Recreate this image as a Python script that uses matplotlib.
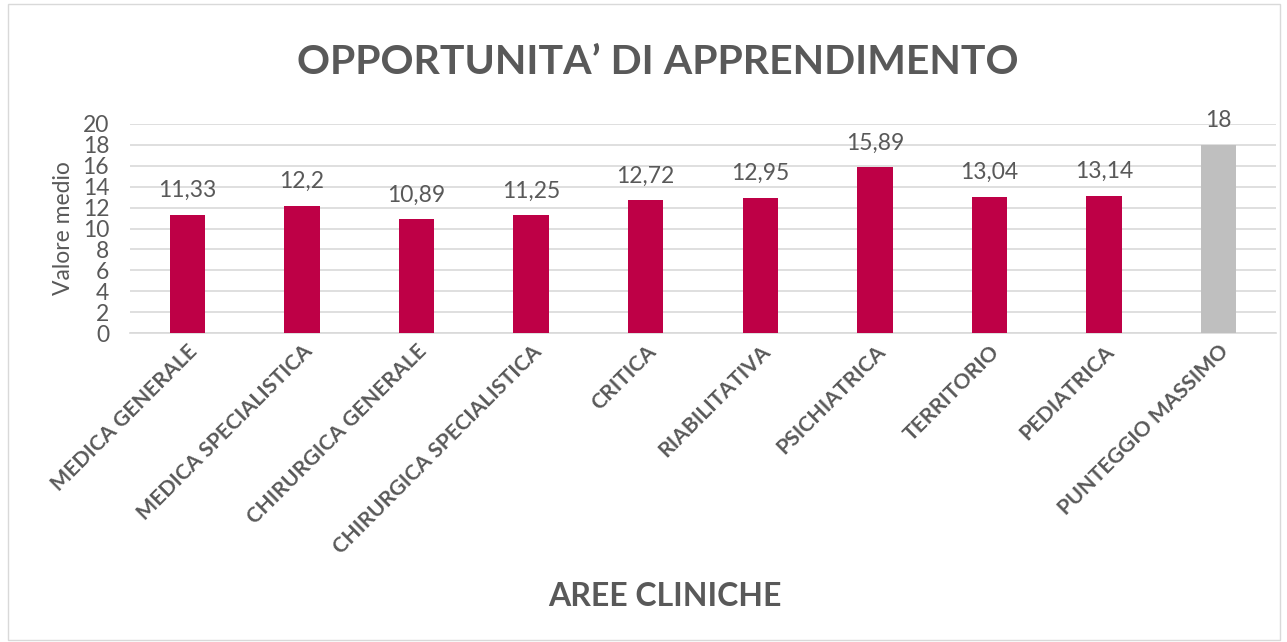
import matplotlib
matplotlib.use("Agg")
import matplotlib.pyplot as plt
from matplotlib.patches import Rectangle

categories = ["MEDICA GENERALE", "MEDICA SPECIALISTICA", "CHIRURGICA GENERALE",
              "CHIRURGICA SPECIALISTICA", "CRITICA", "RIABILITATIVA", "PSICHIATRICA",
              "TERRITORIO", "PEDIATRICA", "PUNTEGGIO MASSIMO"]
values = [11.33, 12.2, 10.89, 11.25, 12.72, 12.95, 15.89, 13.04, 13.14, 18]
labels = ["11,33", "12,2", "10,89", "11,25", "12,72", "12,95", "15,89", "13,04", "13,14", "18"]
yticks = list(range(0, 21, 2))

plt.rcParams['font.family'] = ['Lato', 'DejaVu Sans']
txt = "#595959"
red = "#BE0046"
grey = "#BFBFBF"
colors = [red] * 9 + [grey]

fig = plt.figure(figsize=(12.87, 6.42), dpi=100)
fig.patches.append(Rectangle((8/1287, 2/642), 1272/1287, 636/642, transform=fig.transFigure,
                             fill=False, edgecolor="#D9D9D9", linewidth=1))
ax = fig.add_axes([130/1287, 1 - 333/642, 1146/1287, 209/642])
x = list(range(len(categories)))
ax.bar(x, values, width=0.31, color=colors, zorder=3)
ax.set_xlim(-0.5, len(categories) - 0.5)
ax.set_ylim(0, 20)
ax.set_yticks(yticks)
ax.yaxis.grid(True, color="#D9D9D9", linewidth=1.2, zorder=0)
for s in ["top", "right", "left"]:
    ax.spines[s].set_visible(False)
ax.spines["bottom"].set_color("#D9D9D9")
ax.spines["bottom"].set_linewidth(1.2)
ax.tick_params(axis="y", length=0, labelsize=16.5, labelcolor=txt, pad=15)
ax.tick_params(axis="x", length=0, pad=6)
ax.set_xticks(x)
ax.set_xticklabels(categories, rotation=45, ha="right", rotation_mode="anchor",
                   fontsize=15.3, fontweight="bold", color=txt)
for xi, v, l in zip(x, values, labels):
    ax.text(xi, v + 1.3, l, ha="center", va="bottom", fontsize=16.5, color=txt)
ax.set_ylabel("Valore medio", fontsize=16.5, color=txt, labelpad=6)
fig.text(658/1287, 1 - 63/642, "OPPORTUNITA\u2019 DI APPRENDIMENTO",
         ha="center", va="center", fontsize=29.5, fontweight="bold", color=txt)
fig.text(665/1287, 1 - 597/642, "AREE CLINICHE", ha="center", va="center",
         fontsize=23, fontweight="bold", color=txt)
fig.savefig("out.png", dpi=100, facecolor="white")
